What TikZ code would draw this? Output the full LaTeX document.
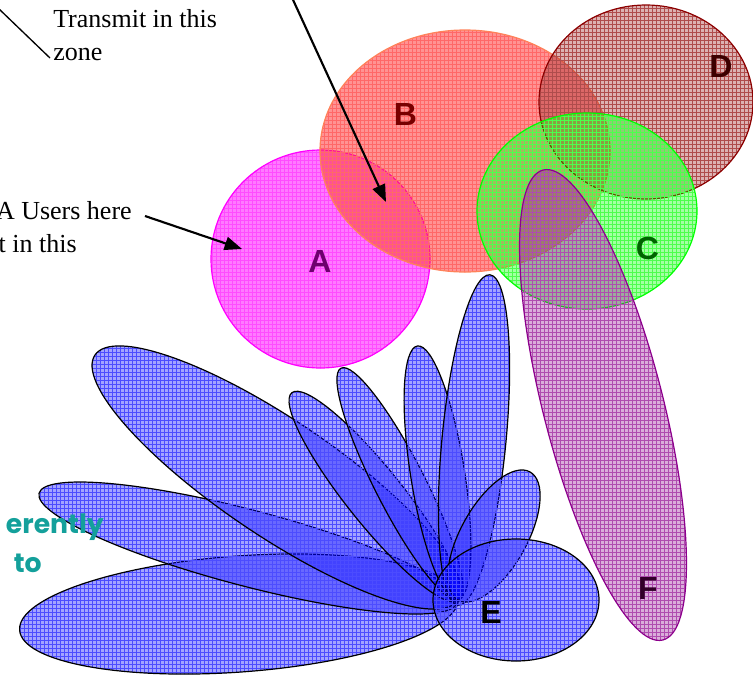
\documentclass[tikz,border=0pt]{standalone}
\usepackage{fontspec}
\setmainfont{Liberation Serif}
\newfontfamily\lblfont{Liberation Sans}[UprightFont=* Bold]
\newfontfamily\handfont{Poppins}
\usetikzlibrary{patterns,arrows.meta}
\definecolor{zA}{RGB}{255,0,255}
\definecolor{zB}{RGB}{255,40,40}
\definecolor{zBedge}{RGB}{255,130,90}
\definecolor{zC}{RGB}{0,255,0}
\definecolor{zD}{RGB}{140,0,0}
\definecolor{zF}{RGB}{140,0,140}
\definecolor{zE}{RGB}{0,0,255}
\definecolor{tealtxt}{RGB}{20,160,155}
\definecolor{labA}{RGB}{110,0,110}
\definecolor{labB}{RGB}{120,0,0}
\definecolor{labC}{RGB}{0,100,0}
\definecolor{labD}{RGB}{60,0,0}
\definecolor{labF}{RGB}{50,0,40}
\begin{document}
\begin{tikzpicture}[x=0.75pt,y=-0.75pt,
  zone/.style n args={3}{draw=#2, line width=0.9pt,
    preaction={fill=#1, fill opacity=#3},
    pattern=grid, pattern color=#1!70!white, fill opacity=0.5},
  petal/.style={zone={zE}{black}{0.36}, line width=0.9pt},
  lbl/.style={font=\lblfont\fontsize{24}{27}\selectfont, inner sep=0pt},
  serif/.style={font=\fontsize{19.5}{23}\selectfont, inner sep=0pt},
  hand/.style={font=\handfont\bfseries\fontsize{20}{24}\selectfont, text=tealtxt, inner sep=0pt},
  arr/.style={line width=1.6pt, -{Triangle[length=13pt,width=10pt]}}
]
\useasboundingbox (0,0) rectangle (753,676);
\clip (0,0) rectangle (753,676);

% upper zones
\draw[zone={zA}{zA}{0.52}] (320.5,259) circle [x radius=109.5, y radius=109];
\draw[zone={zB}{zBedge}{0.5}] (465,151) ellipse [x radius=145, y radius=121];
\draw[zone={zD}{zD}{0.3}] (646,102) ellipse [x radius=107, y radius=97];
\draw[zone={zC}{zC}{0.36}] (587,211) ellipse [x radius=110, y radius=98];
\draw[zone={zF}{zF}{0.32}, rotate around={14.3:(603,405)}] (603,405) ellipse [x radius=60, y radius=242.5];

% beams of E
\draw[petal, rotate around={4.2:(239,614)}] (239,614) ellipse [x radius=220, y radius=58];
\draw[petal, rotate around={-14.7:(248,548)}] (248,548) ellipse [x radius=216, y radius=38];
\draw[petal, rotate around={-34:(276.5,477.5)}] (276.5,477.5) ellipse [x radius=219, y radius=58];
\draw[petal, rotate around={-51.3:(375,496.5)}] (375,496.5) ellipse [x radius=133, y radius=28];
\draw[petal, rotate around={-63:(400,484)}] (400,484) ellipse [x radius=130, y radius=25];
\draw[petal, rotate around={-81:(437.5,473)}] (437.5,473) ellipse [x radius=128.6, y radius=27];
\draw[petal, rotate around={84.5:(474,440)}] (474,440) ellipse [x radius=166, y radius=32];
\draw[petal, rotate around={60.6:(494,536)}] (494,536) ellipse [x radius=73.5, y radius=33];
\draw[petal] (516,600) ellipse [x radius=83, y radius=61];

% zone letters
\node[lbl, text=labA] (labelA) at (320,261) {A};
\node[lbl, text=labB] (labelB) at (405.5,114.5) {B};
\node[lbl, text=labC] (labelC) at (647.5,248.5) {C};
\node[lbl, text=labD] (labelD) at (721,66) {D};
\node[lbl, text=black] (labelE) at (491,612.5) {E};
\node[lbl, text=labF] (labelF) at (648,588) {F};

% texts
\node[serif, anchor=base west] (zoneA) at (53,27) {Transmit in this};
\node[serif, anchor=base west] (zoneB) at (53,60) {zone};
\node[serif, anchor=base east] (usersA) at (132,219) {A Users here};
\node[serif, anchor=base east] (usersB) at (77,252) {t in this};
\node[hand, anchor=base east] (diffA) at (104,533) {erently};
\node[hand, anchor=base east] (diffB) at (42,572) {to};

% leaders and arrows
\coordinate (leadS) at (-2,8);
\coordinate (leadE) at (50,58);
\draw[line width=1pt] (leadS) -- (leadE);
\coordinate (arrBs) at (288.5,-10);
\coordinate (arrBe) at (386,202);
\draw[arr] (arrBs) -- (arrBe);
\coordinate (arrAs) at (145,216);
\coordinate (arrAe) at (242,249);
\draw[arr] (arrAs) -- (arrAe);
\end{tikzpicture}
\end{document}
